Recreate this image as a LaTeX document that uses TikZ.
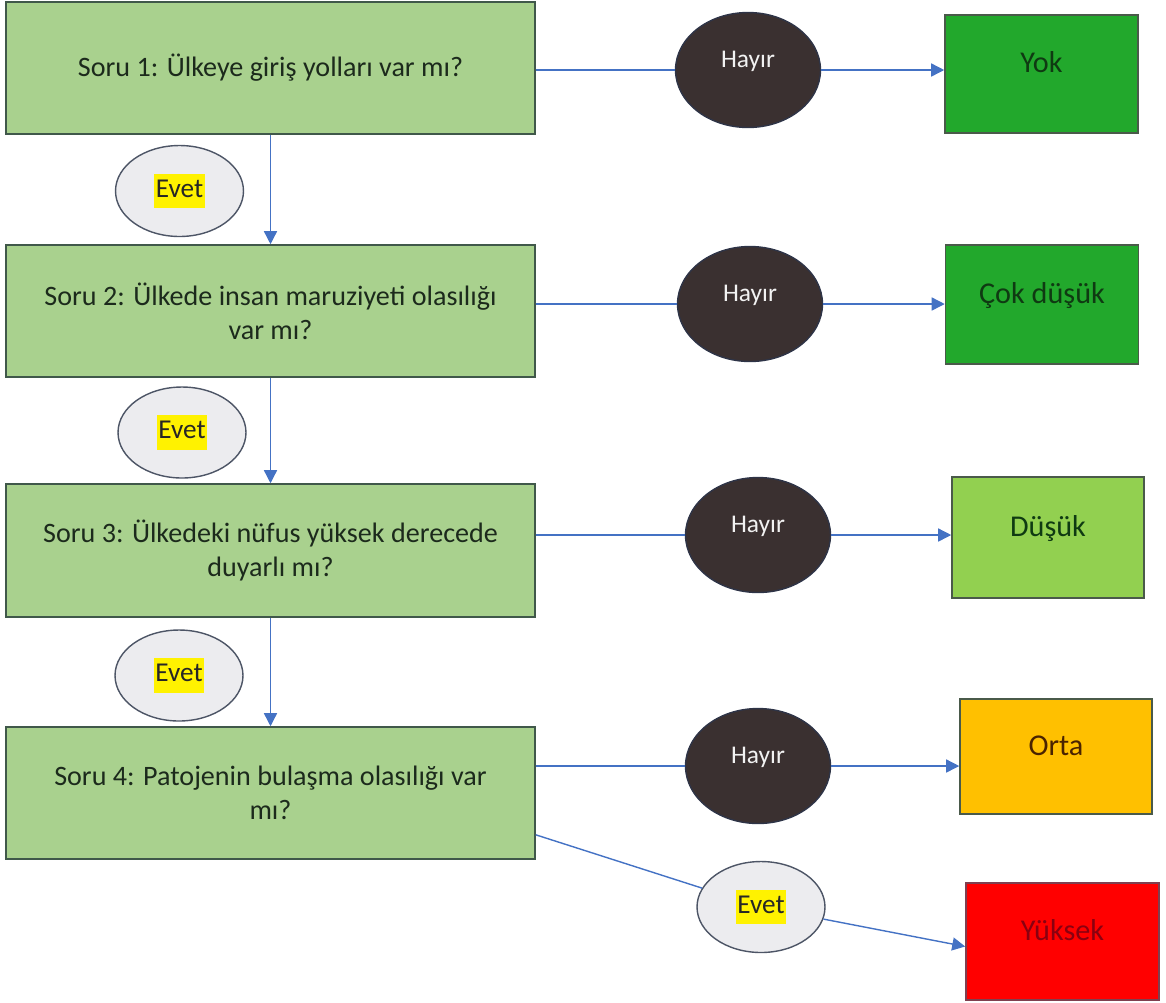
\documentclass[tikz,border=0pt]{standalone}
\usepackage{fontspec}
\setmainfont{Carlito}
\usetikzlibrary{arrows.meta}
\usetikzlibrary{shapes.geometric}
\definecolor{soruyesil}{HTML}{A9D18E}
\definecolor{soruhat}{HTML}{40584A}
\definecolor{sorumetin}{HTML}{1C2A1C}
\definecolor{hayirdolgu}{HTML}{3A3030}
\definecolor{hayirhat}{HTML}{2E3447}
\definecolor{hayirmetin}{HTML}{F2F2F2}
\definecolor{evetdolgu}{HTML}{ECECEF}
\definecolor{evethat}{HTML}{4D5566}
\definecolor{yokyesil}{HTML}{22A82C}
\definecolor{dusukyesil}{HTML}{92D050}
\definecolor{yesilmetin}{HTML}{0F3A12}
\definecolor{ortasari}{HTML}{FFC000}
\definecolor{ortametin}{HTML}{4A2300}
\definecolor{yuksekkirmizi}{HTML}{FF0000}
\definecolor{yuksekhat}{HTML}{7F3F4F}
\definecolor{yuksekmetin}{HTML}{8A0010}
\definecolor{sonuchat}{HTML}{4A5A4A}
\definecolor{okmavi}{HTML}{4472C4}
\setlength{\fboxsep}{0.85pt}

\begin{document}
\begin{tikzpicture}[x=0.02cm,y=-0.02cm,
	soru/.style={rectangle,draw=soruhat,fill=soruyesil,line width=0.9pt,minimum width=10.58cm,minimum height=2.64cm,inner sep=0pt,align=center,text=sorumetin,font=\fontsize{16}{19.5}\selectfont},
	hayir/.style={ellipse,draw=hayirhat,fill=hayirdolgu,line width=0.8pt,minimum width=2.9cm,minimum height=2.3cm,inner sep=0pt,text=hayirmetin,font=\fontsize{14.5}{17}\selectfont,text height=0.35cm,text depth=0.47cm},
	evet/.style={ellipse,draw=evethat,fill=evetdolgu,line width=0.8pt,minimum width=2.56cm,minimum height=1.82cm,inner sep=0pt,text=black!85,font=\fontsize{15.5}{18}\selectfont},
	sonuc/.style={rectangle,draw=sonuchat,line width=0.9pt,minimum width=3.86cm,minimum height=2.36cm,inner sep=0pt,font=\fontsize{17.2}{20}\selectfont,text height=0.4cm,text depth=0.46cm},
	ok/.style={draw=okmavi,line width=0.8pt},
	okucu/.style={ok,-{Triangle[length=0.26cm,width=0.26cm]}}]
	\useasboundingbox (0,0) rectangle (1166,1002);
	%SORU KUTULARI
	\node [soru] (S1) at (270.5,68) {Soru 1: Ülkeye giriş yolları var mı?};
	\node [soru] (S2) at (270.5,311) {Soru 2: Ülkede insan maruziyeti olasılığı\\var mı?};
	\node [soru,minimum height=2.66cm] (S3) at (270.5,550.5) {Soru 3: Ülkedeki nüfus yüksek derecede\\duyarlı mı?};
	\node [soru] (S4) at (270.5,793) {Soru 4: Patojenin bulaşma olasılığı var\\mı?};
	%HAYIR
	\node [hayir] (H1) at (748,70) {Hayır};
	\node [hayir] (H2) at (750,304) {Hayır};
	\node [hayir] (H3) at (758,535) {Hayır};
	\node [hayir] (H4) at (758,766) {Hayır};
	%SONUCLAR
	\node [sonuc,fill=yokyesil,text=yesilmetin] (R1) at (1041.5,74) {Yok};
	\node [sonuc,fill=yokyesil,text=yesilmetin,minimum height=2.38cm] (R2) at (1042,304.5) {Çok düşük};
	\node [sonuc,fill=dusukyesil,text=yesilmetin,minimum width=3.84cm,minimum height=2.42cm] (R3) at (1048,537.5) {Düşük};
	\node [sonuc,fill=ortasari,text=ortametin,minimum width=3.84cm,minimum height=2.3cm] (R4) at (1056,756.5) {Orta};
	\node [sonuc,fill=yuksekkirmizi,draw=yuksekhat,text=yuksekmetin,minimum height=2.34cm] (R5) at (1062.5,941.5) {Yüksek};
	%EVET
	\node [evet] (E1) at (179.5,191) {\colorbox{yellow}{\strut Evet}};
	\node [evet] (E2) at (182,432.5) {\colorbox{yellow}{\strut Evet}};
	\node [evet] (E3) at (179,675.5) {\colorbox{yellow}{\strut Evet}};
	\node [evet] (E4) at (761,907) {\colorbox{yellow}{\strut Evet}};
	%OKLAR
	\draw[okucu] (S1) -- (S2);
	\draw[okucu] (S2) -- (S3);
	\draw[okucu] (S3) -- (S4);
	\draw[ok] (S1.east |- H1) -- (H1);
	\draw[okucu] (H1) -- (R1.west |- H1);
	\draw[ok] (S2.east |- H2) -- (H2);
	\draw[okucu] (H2) -- (R2.west |- H2);
	\draw[ok] (S3.east |- H3) -- (H3);
	\draw[okucu] (H3) -- (R3.west |- H3);
	\draw[ok] (S4.east |- H4) -- (H4);
	\draw[okucu] (H4) -- (R4.west |- H4);
	\draw[ok] ([yshift=0.5cm]S4.south east) -- (E4);
	\draw[okucu] (E4) -- ([yshift=-0.1cm]R5.west);
\end{tikzpicture}
\end{document}
